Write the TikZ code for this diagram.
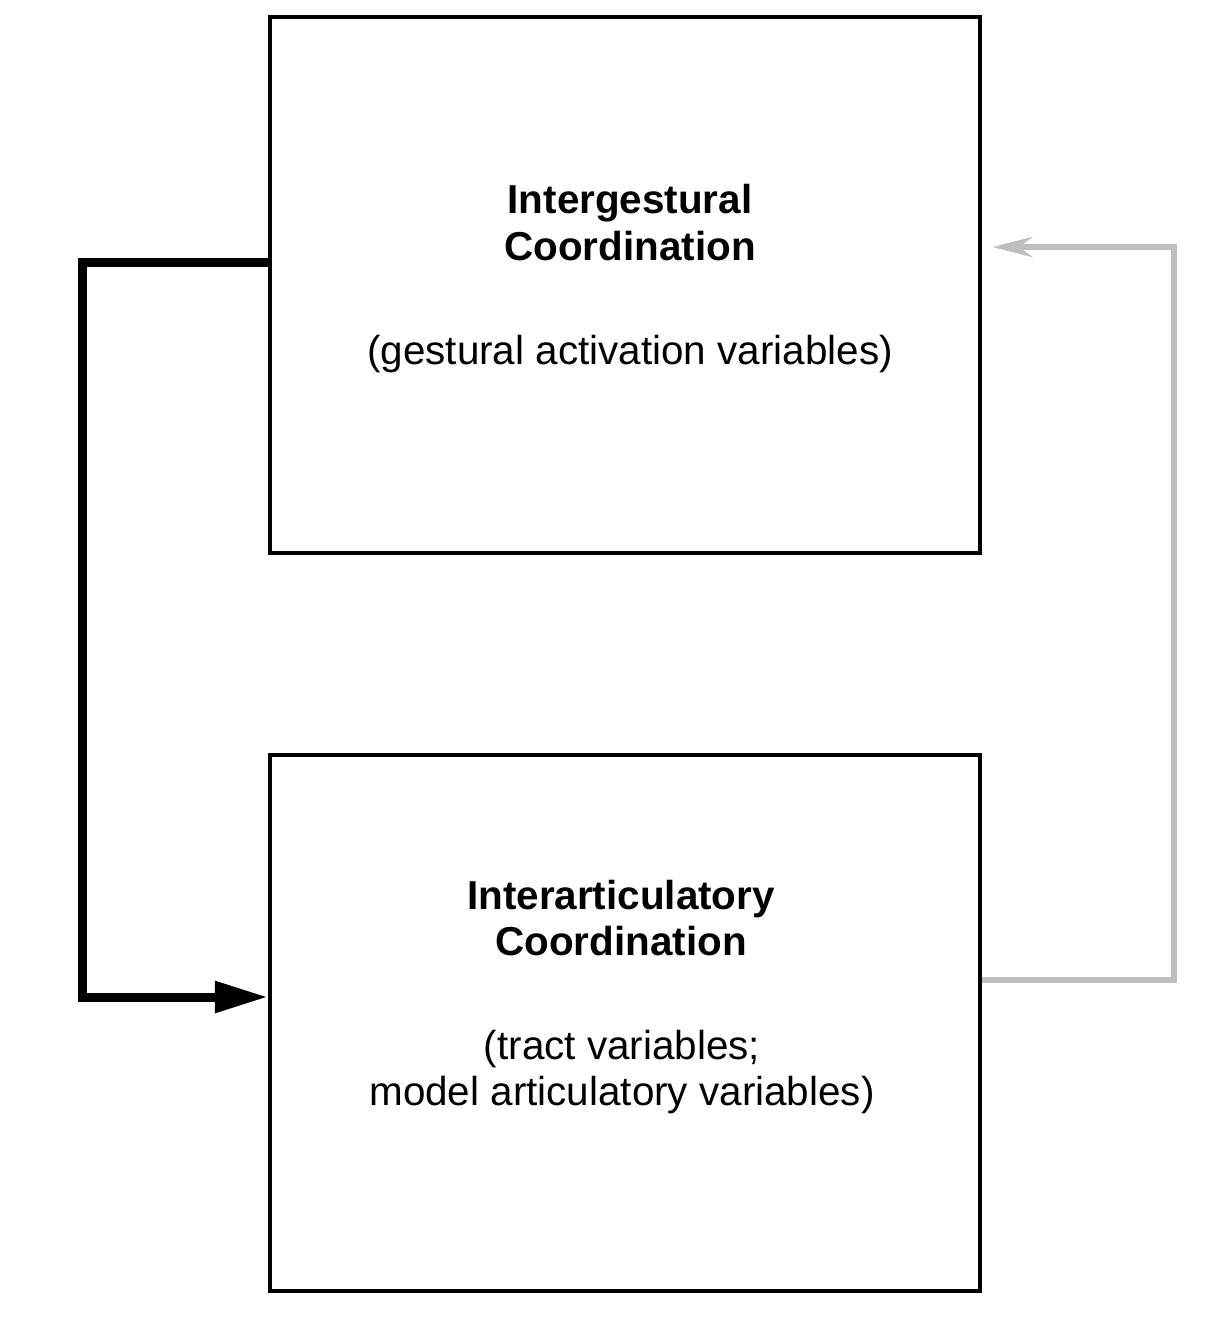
\documentclass[tikz,border=0pt]{standalone}
\usepackage{fontspec}
\setmainfont{Liberation Sans}
\usepackage{tikz}
\usetikzlibrary{arrows.meta}
\tikzset{
	block/.style={draw,line width=0.09cm,minimum width=14.2cm,minimum height=10.72cm,inner sep=0pt},
	title/.style={font=\fontsize{23}{26.7}\selectfont\bfseries,align=center},
	vars/.style={font=\fontsize{23}{26.7}\selectfont,align=center},
	feed/.style={line width=0.18cm,-{Triangle[length=1.06cm,width=0.6cm]}},
	back/.style={gray!50,line width=0.13cm,-{Stealth[length=0.8cm,width=0.4cm]}}
}

\begin{document}
\begin{tikzpicture}[x=0.02cm,y=-0.02cm]
	\useasboundingbox (0,0) rectangle (1208,1320);
	\node [block] (top) at (625,285) {};
	\node [block] (bot) at (625,1023) {};
	\node [title] (toptitle) at (630,223) {Intergestural\\Coordination};
	\node [vars] (topvars) at (630,354) {(gestural activation variables)};
	\node [title] (bottitle) at (621,918) {Interarticulatory\\Coordination};
	\node [vars] (botvars) at (622,1072) {(tract variables;\\model articulatory variables)};
	% feedforward and feedback
	\draw [feed] ([yshift=0.46cm]top.west) -- ++(-185,0) |- ([yshift=0.52cm]bot.west);
	\draw [back] ([yshift=0.86cm]bot.east) -- ++(192,0) |- ([xshift=0.2cm,yshift=0.76cm]top.east);
\end{tikzpicture}
\end{document}
